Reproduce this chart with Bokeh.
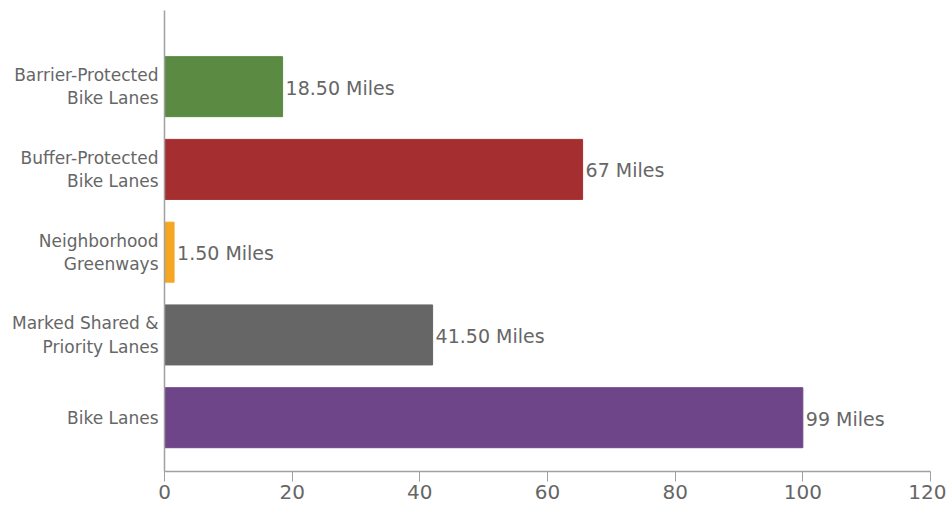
from bokeh.plotting import figure
from bokeh.models import ColumnDataSource, Range1d, FixedTicker
from bokeh.embed import file_html
from bokeh.resources import INLINE
from bokeh.core.properties import value

categories = ["Bike Lanes", "Marked Shared &\nPriority Lanes", "Neighborhood\nGreenways",
              "Buffer-Protected\nBike Lanes", "Barrier-Protected\nBike Lanes"]
bar_miles = [100, 42, 1.5, 65.5, 18.5]
label_texts = ["99 Miles", "41.50 Miles", "1.50 Miles", "67 Miles", "18.50 Miles"]
colors = ["#6f4589", "#666666", "#f5a623", "#a52f30", "#5b8a42"]
x_ticks = [0, 20, 40, 60, 80, 100, 120]

pos = list(range(len(categories)))
src = ColumnDataSource(dict(y=pos, right=bar_miles, color=colors, label=label_texts))

FONT = "DejaVu Sans"
GREY = "#666666"

p = figure(width=946, height=511, output_backend="svg", toolbar_location=None,
           x_range=Range1d(0, 120), y_range=Range1d(-0.65, 4.92),
           min_border_left=164, min_border_right=16, min_border_top=10, min_border_bottom=40)
p.outline_line_color = None
p.grid.visible = False
p.background_fill_color = "white"
p.border_fill_color = "white"

p.hbar(y="y", left=0, right="right", height=0.725, color="color", source=src)
p.text(x="right", y="y", text="label", source=src, x_offset=3, y_offset=1,
       text_font=value(FONT), text_font_size="19px", text_color=GREY,
       text_baseline="middle", text_align="left")

p.xaxis.ticker = FixedTicker(ticks=x_ticks)
p.xaxis.axis_line_color = "#a0a0a0"
p.xaxis.axis_line_width = 1.5
p.xaxis.major_tick_line_color = "#a0a0a0"
p.xaxis.major_tick_in = 0
p.xaxis.major_tick_out = 10
p.xaxis.minor_tick_line_color = None
p.xaxis.major_label_text_font = FONT
p.xaxis.major_label_text_font_size = "20px"
p.xaxis.major_label_text_color = GREY
p.xaxis.major_label_standoff = 3

p.yaxis.ticker = FixedTicker(ticks=pos)
p.yaxis.major_label_overrides = {i: c for i, c in zip(pos, categories)}
p.yaxis.axis_line_color = "#a0a0a0"
p.yaxis.axis_line_width = 1.5
p.yaxis.major_tick_line_color = None
p.yaxis.minor_tick_line_color = None
p.yaxis.major_tick_out = 0
p.yaxis.major_tick_in = 0
p.yaxis.major_label_text_font = FONT
p.yaxis.major_label_text_font_size = "17px"
p.yaxis.major_label_text_color = GREY
p.yaxis.major_label_text_line_height = 1.16
p.yaxis.major_label_standoff = 6

open("out.html", "w").write(file_html(p, INLINE))
